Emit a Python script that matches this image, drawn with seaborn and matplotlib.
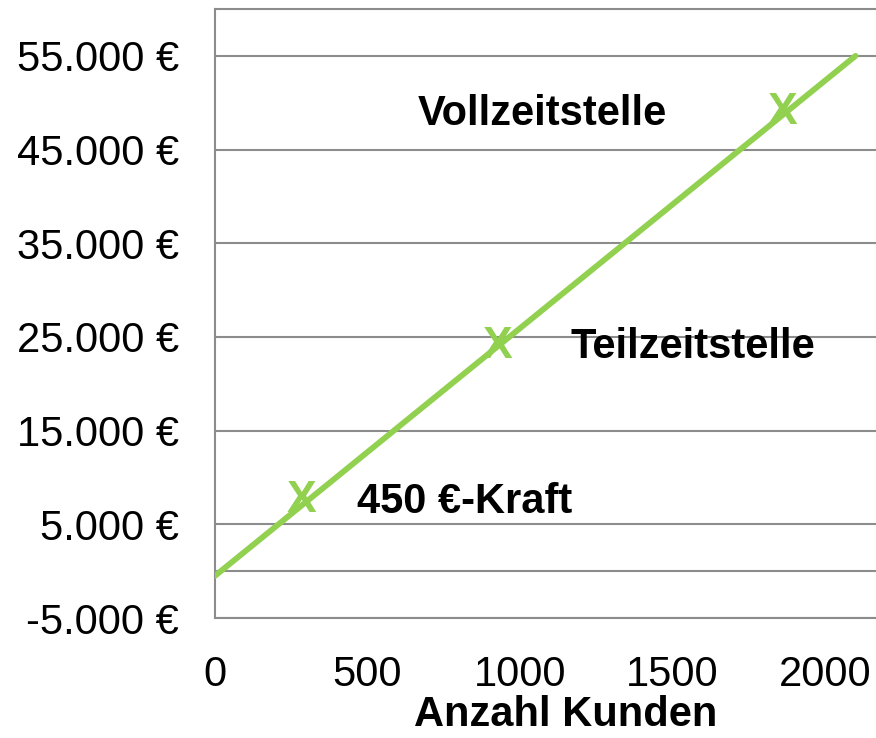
import matplotlib
matplotlib.use("Agg")
import matplotlib.pyplot as plt
import matplotlib.transforms as mtransforms
import seaborn as sns
import pandas as pd

# ---- data ----
line_customers = [0, 2100]
line_costs = [-500, 55000]

marker_customers = [282, 926, 1861]
marker_costs = [8000, 24500, 49400]

label_texts = ["450 €-Kraft", "Teilzeitstelle", "Vollzeitstelle"]

y_ticks = [-5000, 5000, 15000, 25000, 35000, 45000, 55000]
y_tick_labels = ["-5.000 €", "5.000 €", "15.000 €", "25.000 €", "35.000 €", "45.000 €", "55.000 €"]
x_ticks = [0, 500, 1000, 1500, 2000]
x_tick_labels = ["0", "500", "1000", "1500", "2000"]
x_label = "Anzahl Kunden"

# ---- style ----
sns.set_theme(style="white")
plt.rcParams["font.family"] = ["Liberation Sans", "DejaVu Sans"]
plt.rcParams["text.color"] = "black"

GREEN = "#92D050"
GRID = "#8C8C8C"
FS = 30

fig = plt.figure(figsize=(8.76, 7.38), dpi=100)
ax = fig.add_axes([215 / 876, 1 - 618 / 738, 1 - 215 / 876, (618 - 9) / 738])

df = pd.DataFrame({"Kunden": line_customers, "Kosten": line_costs})
sns.lineplot(data=df, x="Kunden", y="Kosten", ax=ax, color=GREEN, linewidth=4.2,
             solid_capstyle="round", zorder=3)

ax.set_xlim(0, 2167)
ax.set_ylim(-5000, 60000)

ax.set_yticks(y_ticks)
ax.set_yticklabels(y_tick_labels, fontsize=FS)
ax.set_xticks(x_ticks)
ax.set_xticklabels(x_tick_labels, fontsize=FS)
ax.tick_params(axis="y", length=0, pad=26, colors="black")
ax.tick_params(axis="x", length=0, pad=27, colors="black")

ax.yaxis.grid(True, color=GRID, linewidth=1.5)
ax.xaxis.grid(False)
ax.axhline(0, color=GRID, linewidth=1.5, zorder=1)

for side in ["left", "top", "bottom"]:
    ax.spines[side].set_visible(True)
    ax.spines[side].set_color(GRID)
    ax.spines[side].set_linewidth(1.5)
ax.spines["right"].set_visible(False)

ax.set_xlabel(x_label, fontsize=FS, fontweight="bold", color="black")
ax.set_ylabel("")
ax.xaxis.set_label_coords((566 - 215) / (876 - 215), -0.127)

# X markers as bold letters centred on their values
offset = mtransforms.ScaledTranslation(0, -(FS + 2) * 0.716 / 2 / 72, fig.dpi_scale_trans)
for mx, my in zip(marker_customers, marker_costs):
    ax.text(mx, my, "X", color=GREEN, fontsize=FS + 2, fontweight="bold",
            ha="center", va="baseline", transform=ax.transData + offset, zorder=4)

# annotations
ax.text(466, 6210, label_texts[0], fontsize=FS, fontweight="bold", color="black",
        ha="left", va="baseline")
ax.text(1164, 22757, label_texts[1], fontsize=FS, fontweight="bold", color="black",
        ha="left", va="baseline")
ax.text(1072, 47631, label_texts[2], fontsize=FS, fontweight="bold", color="black",
        ha="center", va="baseline")

fig.savefig("out.png", dpi=100)
